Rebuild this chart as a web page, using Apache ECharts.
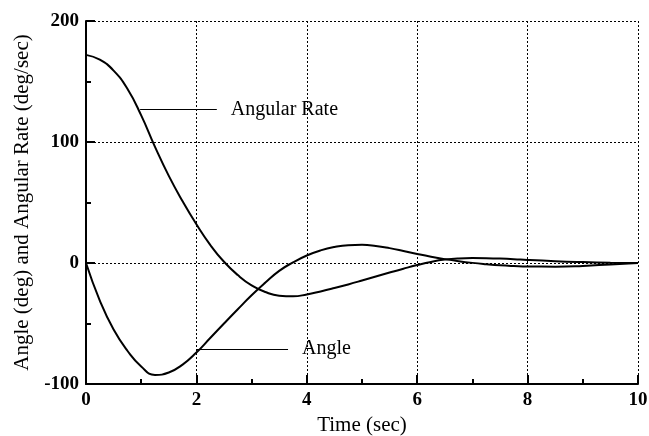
<!DOCTYPE html>
<html><head><meta charset="utf-8">
<script src="https://cdn.jsdelivr.net/npm/echarts@6/dist/echarts.min.js"></script>
<style>html,body{margin:0;padding:0;background:#fff}#c{width:649px;height:436px}</style>
</head><body><div id="c"></div>
<script>
const times = [0,0.25,0.5,0.75,1,1.25,1.5,1.75,2,2.25,2.5,2.75,3,3.25,3.5,3.75,4,4.25,4.5,4.75,5,5.25,5.5,5.75,6,6.25,6.5,6.75,7,7.25,7.5,7.75,8,8.5,9,9.5,10];
const angularRate = [172,168,159,144,122,96,72,51,32,15,1,-10,-18.5,-24,-27,-27.5,-26,-23.5,-20.7,-17.7,-14.5,-11.2,-7.9,-4.7,-1.7,0.9,2.8,3.8,4.1,4.0,3.7,3.2,2.5,1.5,0.8,0.3,0];
const angle = [0,-31,-55,-72.5,-85.5,-92.5,-90.5,-84,-74,-62,-50,-38.2,-26.7,-16.2,-6.5,0.5,6.2,10.4,13.2,14.7,15,14.1,12.3,10,7.5,5.2,3.2,1.5,0.1,-1,-1.9,-2.5,-2.9,-3,-2.4,-1.2,0];
const xTicks = [0,2,4,6,8,10];
const yTicks = [-100,0,100,200];
const rateLabel = {text:'Angular Rate', from:[0.98,127], to:[2.37,127]};
const angleLabel = {text:'Angle', from:[2.0,-71], to:[3.66,-71]};

const font = 'Liberation Serif';
const chart = echarts.init(document.getElementById('c'));
function pairs(ys){return times.map((t,i)=>[t,ys[i]]);}
function ml(o){
  return {symbol:'none',silent:true,animation:false,
    lineStyle:{color:'#000',width:1.2,type:'solid'},
    label:{show:true,position:'end',formatter:o.text,color:'#000',fontFamily:font,fontSize:20,distance:14},
    data:[[{coord:o.from},{coord:o.to}]]};
}
chart.setOption({
  animation:false,
  grid:{left:86,right:11,top:21,bottom:52,containLabel:false,outerBoundsMode:'none'},
  xAxis:{type:'value',min:0,max:10,interval:2,
    name:'Time (sec)',nameLocation:'middle',nameGap:22,
    nameTextStyle:{color:'#000',fontFamily:font,fontSize:21},
    axisLine:{onZero:false,lineStyle:{color:'#000',width:2}},
    axisTick:{inside:true,length:9,lineStyle:{color:'#000',width:2}},
    minorTick:{show:true,splitNumber:2,length:5,lineStyle:{color:'#000',width:2}},
    axisLabel:{color:'#000',fontFamily:font,fontSize:19,fontWeight:'bold',margin:7,
      formatter:v=>xTicks.includes(v)?String(v):''},
    splitLine:{show:true,lineStyle:{color:'#000',type:[2,2],width:1}}
  },
  yAxis:{type:'value',min:-100,max:200,interval:100,
    name:'Angle (deg) and Angular Rate (deg/sec)',nameLocation:'middle',nameGap:53,
    nameTextStyle:{color:'#000',fontFamily:font,fontSize:21},
    axisLine:{show:true,onZero:false,lineStyle:{color:'#000',width:2}},
    axisTick:{show:true,inside:true,length:9,lineStyle:{color:'#000',width:2}},
    minorTick:{show:true,splitNumber:2,length:5,lineStyle:{color:'#000',width:2}},
    axisLabel:{color:'#000',fontFamily:font,fontSize:19,fontWeight:'bold',margin:7,
      formatter:v=>yTicks.includes(v)?String(v):''},
    splitLine:{show:true,lineStyle:{color:'#000',type:[2,2],width:1}}
  },
  series:[
    {name:'Angular Rate',type:'line',data:pairs(angularRate),smooth:0.5,showSymbol:false,
      lineStyle:{color:'#000',width:2},markLine:ml(rateLabel)},
    {name:'Angle',type:'line',data:pairs(angle),smooth:0.5,showSymbol:false,
      lineStyle:{color:'#000',width:2},markLine:ml(angleLabel)}
  ]
});
</script></body></html>
